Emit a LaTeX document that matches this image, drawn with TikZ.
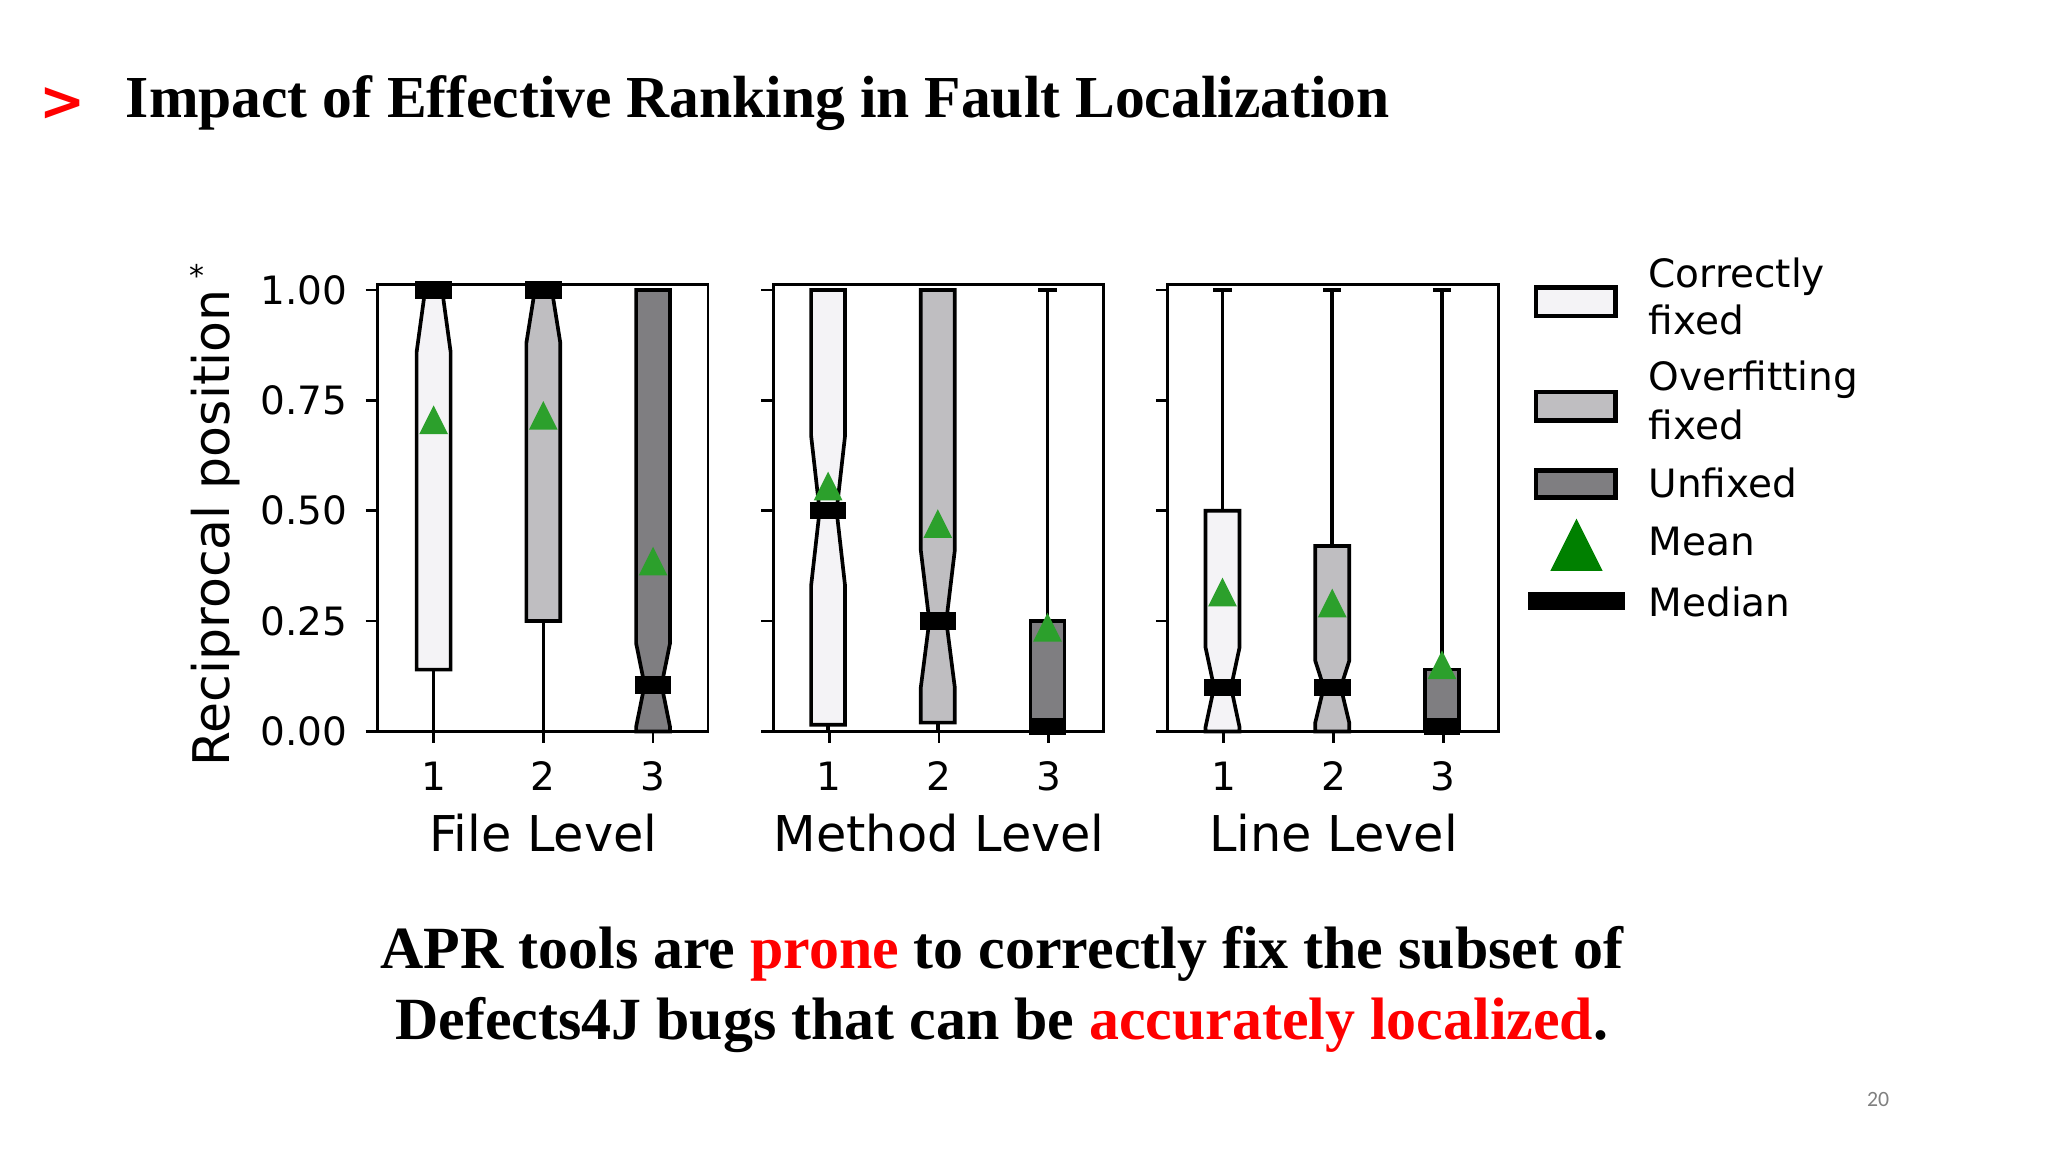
\documentclass[tikz,border=0pt]{standalone}
\usepackage{fontspec}
\setmainfont{Liberation Serif}
\newfontfamily\djfont{DejaVu Sans}
\newfontfamily\carlfont{Carlito}
\definecolor{cf}{HTML}{F4F3F6}
\definecolor{of}{HTML}{BFBEC1}
\definecolor{uf}{HTML}{7F7E81}
\definecolor{mg}{HTML}{2CA02C}
\definecolor{lg}{HTML}{008000}
\definecolor{rd}{HTML}{FF0000}
\newcommand{\Yv}[1]{560-338*(#1)}
% x, q1, q3, med, nl, nh, fill
\newcommand{\nbx}[7]{%
 \draw[boxline,fill=#7] ({#1-13},{\Yv{#2}}) -- ({#1-13},{\Yv{#5}}) -- ({#1-6.5},{\Yv{#4}}) -- ({#1-13},{\Yv{#6}}) -- ({#1-13},{\Yv{#3}}) -- ({#1+13},{\Yv{#3}}) -- ({#1+13},{\Yv{#6}}) -- ({#1+6.5},{\Yv{#4}}) -- ({#1+13},{\Yv{#5}}) -- ({#1+13},{\Yv{#2}}) -- cycle;}
\newcommand{\pbx}[4]{\draw[boxline,fill=#4] ({#1-13},{\Yv{#2}}) rectangle ({#1+13},{\Yv{#3}});}
\newcommand{\wsk}[3]{\draw[boxline] (#1,{\Yv{#2}}) -- (#1,{\Yv{#3}}); \draw[boxline] ({#1-7},{\Yv{#3}}) -- ({#1+7},{\Yv{#3}});}
\newcommand{\medbar}[2]{\draw[line width=7.5pt] ({#1-14},{\Yv{#2}}) -- ({#1+14},{\Yv{#2}});}
\newcommand{\mnmark}[2]{\fill[mg] ({#1-11},{\Yv{#2}+9}) -- ({#1+11},{\Yv{#2}+9}) -- ({#1},{\Yv{#2}-13}) -- cycle;}
\begin{document}
\begin{tikzpicture}[x=0.02cm,y=-0.02cm,
 boxline/.style={line width=1.6pt,line join=miter},
 frame/.style={line width=1.2pt},
 tk/.style={font=\djfont\fontsize{17}{17}\selectfont},
 lv/.style={font=\djfont\fontsize{21.5}{22}\selectfont},
 lt/.style={font=\djfont\fontsize{17}{18}\selectfont,anchor=west}]
\useasboundingbox[fill=white] (0,0) rectangle (1568,882);
% title
\node[text=rd,font=\djfont\bfseries\fontsize{24}{24}\selectfont] (arr) at (48,80) {>};
\node[anchor=base west,font=\bfseries\fontsize{25.95}{26}\selectfont,inner sep=0] (title) at (96,90) {Impact of Effective Ranking in Fault Localization};
% panels
\foreach \px/\nm in {289/File Level,592/Method Level,894/Line Level}{
 \draw[frame] (\px,218) rectangle ({\px+253},560);
 \foreach \v in {0,0.25,0.5,0.75,1}{\draw[frame] ({\px-9},{\Yv{\v}}) -- (\px,{\Yv{\v}});}
 \foreach \i in {1,2,3}{
  \draw[frame] ({\px+43+84*(\i-1)},560) -- ({\px+43+84*(\i-1)},569);
  \node[tk] at ({\px+43+84*(\i-1)},594) {\i};}
 \node[lv] at ({\px+127},638) {\nm};
}
\foreach \v/\t in {0/0.00,0.25/0.25,0.5/0.50,0.75/0.75,1/1.00}{\node[tk,anchor=east] at (272,{\Yv{\v}}) {\t};}
\node[rotate=90,font=\djfont\fontsize{22}{22}\selectfont] (ylab) at (165,404) {Reciprocal position};
\node[font=\djfont\fontsize{13}{13}\selectfont] (ast) at (151,211) {*};
% File level
\wsk{332}{0.14}{0.0}\nbx{332}{0.14}{1.0}{1.0}{0.86}{1.0}{cf}\medbar{332}{1.0}\mnmark{332}{0.70}
\wsk{416}{0.25}{0.0}\nbx{416}{0.25}{1.0}{1.0}{0.88}{1.0}{of}\medbar{416}{1.0}\mnmark{416}{0.71}
\nbx{500}{0.0}{1.0}{0.105}{0.01}{0.2}{uf}\medbar{500}{0.105}\mnmark{500}{0.38}
% Method level
\wsk{634}{0.02}{0.0}\nbx{634}{0.015}{1.0}{0.5}{0.33}{0.67}{cf}\medbar{634}{0.5}\mnmark{634}{0.55}
\wsk{718}{0.02}{0.0}\nbx{718}{0.02}{1.0}{0.25}{0.1}{0.41}{of}\medbar{718}{0.25}\mnmark{718}{0.465}
\wsk{802}{0.25}{1.0}\pbx{802}{0.0}{0.25}{uf}\medbar{802}{0.012}\mnmark{802}{0.23}
% Line level
\wsk{936}{0.5}{1.0}\nbx{936}{0.0}{0.5}{0.10}{0.01}{0.19}{cf}\medbar{936}{0.10}\mnmark{936}{0.31}
\wsk{1020}{0.42}{1.0}\nbx{1020}{0.0}{0.42}{0.10}{0.02}{0.16}{of}\medbar{1020}{0.10}\mnmark{1020}{0.285}
\wsk{1104}{0.14}{1.0}\pbx{1104}{0.0}{0.14}{uf}\medbar{1104}{0.012}\mnmark{1104}{0.145}
% legend
\draw[line width=2pt,fill=cf] (1176,220) rectangle (1237,242);
\draw[line width=2pt,fill=of] (1176,300) rectangle (1237,322);
\draw[line width=2pt,fill=uf] (1176,360) rectangle (1237,381);
\fill[lg] (1187,437) -- (1227,437) -- (1207,397) -- cycle;
\draw[line width=8pt] (1170,460) -- (1244,460);
\node[lt] (l1) at (1256,212) {Correctly};
\node[lt] (l2) at (1256,245) {fixed};
\node[lt] (l3) at (1256,291) {Overfitting};
\node[lt] (l4) at (1256,325) {fixed};
\node[lt] (l5) at (1256,370) {Unfixed};
\node[lt] (l6) at (1256,415) {Mean};
\node[lt] (l7) at (1256,461) {Median};
% bottom text
\node[font=\bfseries\fontsize{26.1}{27}\selectfont] (b1) at (767,730) {APR tools are \textcolor{rd}{prone} to correctly fix the subset of};
\node[font=\bfseries\fontsize{26.1}{27}\selectfont] (b2) at (767,785) {Defects4J bugs that can be \textcolor{rd}{accurately localized}.};
\node[font=\carlfont\fontsize{9.5}{10}\selectfont,text=gray] (pg) at (1438,842) {20};
\end{tikzpicture}
\end{document}
